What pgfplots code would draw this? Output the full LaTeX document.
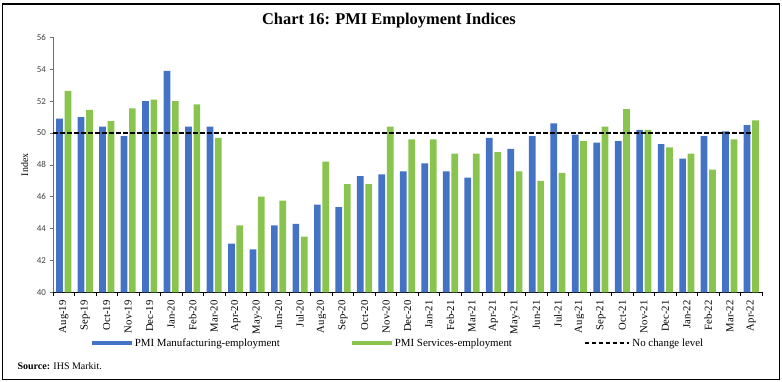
\documentclass[border=0pt]{standalone}
\usepackage{pgfplots}
\pgfplotsset{compat=1.18}
\usepackage{fontspec}
\setmainfont{Liberation Serif}
\newfontfamily\tickfont{Carlito}
\definecolor{mblue}{RGB}{68,114,196}
\definecolor{sgreen}{RGB}{137,196,79}
\definecolor{axgray}{RGB}{110,110,110}
\begin{document}
\begin{tikzpicture}[x=1pt,y=1pt]
\useasboundingbox (0,0) rectangle (782,382);
\draw[line width=1.3pt] (2.5,2.5) rectangle (779.5,378);
\node[font=\fontsize{16.4}{18}\selectfont\bfseries] at (389,361) {Chart 16: PMI Employment Indices};
\node[anchor=base west, font=\fontsize{10}{12}\selectfont] at (14,12) {\textbf{Source:} IHS Markit.};
\begin{axis}[
  at={(53pt,89.7pt)}, anchor=south west,
  scale only axis, width=709pt, height=254.8pt,
  xmin=-0.5, xmax=32.5, ymin=40, ymax=56,
  ytick={40,42,...,56},
  xtick={0,...,32},
  xticklabels={Aug-19,Sep-19,Oct-19,Nov-19,Dec-19,Jan-20,Feb-20,Mar-20,Apr-20,May-20,Jun-20,Jul-20,Aug-20,Sep-20,Oct-20,Nov-20,Dec-20,Jan-21,Feb-21,Mar-21,Apr-21,May-21,Jun-21,Jul-21,Aug-21,Sep-21,Oct-21,Nov-21,Dec-21,Jan-22,Feb-22,Mar-22,Apr-22},
  minor xtick={-0.5,0.5,...,32.5},
  axis x line*=bottom, axis y line*=left,
  x axis line style={-, black, line width=0.8pt},
  y axis line style={-, axgray, line width=0.8pt},
  tick align=outside,
  major x tick style={draw=none},
  minor x tick style={black, line width=0.7pt},
  y tick style={axgray, line width=0.7pt},
  major tick length=3.5pt, minor tick length=3.5pt,
  x tick label style={rotate=90, anchor=east, font=\fontsize{10.7}{12}\selectfont, xshift=-1pt},
  y tick label style={font=\tickfont\fontsize{9}{10}\selectfont, text=black!75},
  /pgf/number format/assume math mode=true,
  ylabel={Index},
  ylabel style={font=\fontsize{9.5}{11}\selectfont},
  every axis y label/.style={at={(axis description cs:-0.04,0.5)}, rotate=90, anchor=center},
  legend columns=3,
  legend style={at={(axis description cs:0.0545,-0.199)}, anchor=west, draw=none, fill=none,
    font=\fontsize{10.9}{12}\selectfont, inner sep=0pt,
    nodes={inner xsep=3pt, inner ysep=0pt},
    /tikz/every even column/.append style={column sep=69pt}},
]
\addplot[ybar, bar width=6.7pt, bar shift=-4.2pt, fill=mblue, draw=none,
  legend image code/.code={\fill[mblue] (0pt,-2.2pt) rectangle (40pt,2.2pt);}]
coordinates {
(0,50.9) (1,51.0) (2,50.4) (3,49.8) (4,52.0) (5,53.9) (6,50.4) (7,50.4)
(8,43.05) (9,42.7) (10,44.2) (11,44.3) (12,45.5) (13,45.35) (14,47.3) (15,47.4)
(16,47.6) (17,48.1) (18,47.6) (19,47.2) (20,49.7) (21,49.0) (22,49.8) (23,50.6)
(24,49.9) (25,49.4) (26,49.5) (27,50.2) (28,49.3) (29,48.4) (30,49.8) (31,50.1) (32,50.5)
};
\addlegendentry{PMI Manufacturing-employment}
\addplot[ybar, bar width=6.7pt, bar shift=4.2pt, fill=sgreen, draw=none,
  legend image code/.code={\fill[sgreen] (0pt,-2.2pt) rectangle (40pt,2.2pt);}]
coordinates {
(0,52.65) (1,51.45) (2,50.75) (3,51.55) (4,52.1) (5,52.0) (6,51.8) (7,49.7)
(8,44.2) (9,46.0) (10,45.75) (11,43.5) (12,48.2) (13,46.8) (14,46.8) (15,50.4)
(16,49.6) (17,49.6) (18,48.7) (19,48.7) (20,48.8) (21,47.6) (22,47.0) (23,47.5)
(24,49.5) (25,50.4) (26,51.5) (27,50.2) (28,49.1) (29,48.7) (30,47.7) (31,49.6) (32,50.8)
};
\addlegendentry{PMI Services-employment}
\addplot[black, line width=1.4pt, dash pattern=on 4.5pt off 2.5pt,
  legend image code/.code={\draw[black, line width=1.4pt, dash pattern=on 4.5pt off 2.5pt] (0pt,0pt) -- (44pt,0pt);}]
coordinates {(-0.5,50) (32,50)};
\addlegendentry{No change level}
\end{axis}
\end{tikzpicture}
\end{document}
